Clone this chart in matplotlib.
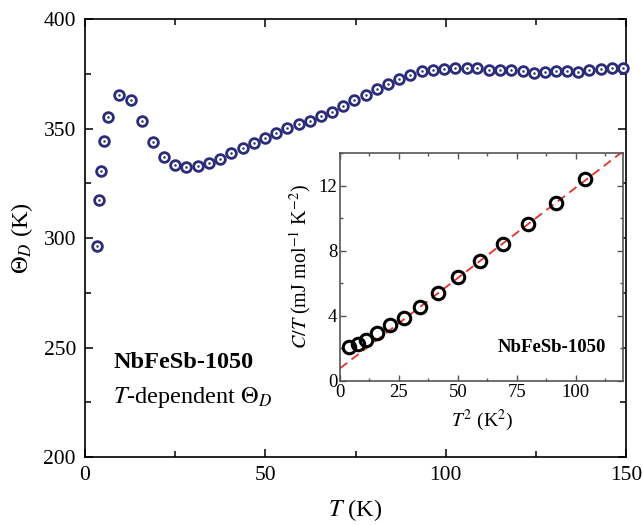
import numpy as np
import matplotlib
matplotlib.use("Agg")
from matplotlib import pyplot as plt
from matplotlib.ticker import MultipleLocator

plt.rcParams['font.family'] = ['Liberation Serif', 'DejaVu Serif']
plt.rcParams['mathtext.fontset'] = 'stix'

# main panel: Debye temperature vs T
T = [3.2, 3.9, 4.5, 5.2, 6.4, 9.5, 12.7, 15.7, 18.8, 21.8, 25.0, 28.1, 31.2, 34.3,
     37.4, 40.6, 43.7, 46.8, 49.9, 53.0, 56.1, 59.2, 62.4, 65.4, 68.5, 71.6, 74.7,
     77.8, 81.0, 84.0, 87.1, 90.2, 93.3, 96.4, 99.5, 102.7, 105.8, 108.8, 111.9,
     115.1, 118.1, 121.3, 124.4, 127.5, 130.6, 133.6, 136.8, 139.8, 143.0, 146.1, 149.2]
theta_D = [296.3, 317.4, 330.5, 344.4, 355.1, 365.3, 363.2, 353.3, 344.0, 337.0, 333.3,
           332.3, 332.7, 334.1, 336.2, 338.7, 341.2, 343.5, 345.8, 348.1, 350.1, 352.1,
           353.7, 355.8, 357.7, 360.3, 363.0, 365.3, 368.0, 370.3, 372.6, 374.7, 376.3,
           377.0, 377.3, 377.8, 377.8, 377.5, 377.0, 376.7, 376.7, 376.4, 375.5, 375.9,
           376.4, 376.4, 375.9, 376.6, 377.2, 377.5, 377.5]

# inset: C/T vs T^2
T2 = [3.9, 7.5, 11.0, 15.8, 21.1, 27.0, 33.8, 41.5, 49.9, 59.4, 69.2, 79.9, 91.4, 103.8]
CT = [2.10, 2.27, 2.51, 2.92, 3.43, 3.88, 4.55, 5.43, 6.39, 7.35, 8.43, 9.66, 10.94, 12.41]
gamma = 0.78   # intercept of linear fit
beta = 0.111   # slope of linear fit

navy = '#2b2d7c'

fig = plt.figure(figsize=(6.43, 5.25), dpi=100)
ax = fig.add_axes([0.1322, 0.1295, 0.8414, 0.834])

ax.plot(T, theta_D, 'o', ms=7, mfc='white', mec=navy, mew=2.0, clip_on=False, zorder=3)
ax.plot(T, theta_D, 'o', ms=1.8, mfc=navy, mec=navy, mew=0, clip_on=False, zorder=4)

ax.set_xlim(0, 150)
ax.set_ylim(200, 400)
ax.xaxis.set_major_locator(MultipleLocator(50))
ax.xaxis.set_minor_locator(MultipleLocator(25))
ax.yaxis.set_major_locator(MultipleLocator(50))
ax.yaxis.set_minor_locator(MultipleLocator(25))
ax.tick_params(which='both', direction='in', top=True, right=True, labelsize=15.5,
               width=1.1, pad=6.5)
ax.tick_params(which='major', length=6)
ax.tick_params(which='minor', length=4)
for s in ax.spines.values():
    s.set_linewidth(1.2)
ax.set_xlabel(r'$T$ (K)', fontsize=17.5, labelpad=9)
ax.set_ylabel(r'$\Theta_D$ (K)', fontsize=17.5, labelpad=6)

ax.text(0.052, 0.215, 'NbFeSb-1050', transform=ax.transAxes, fontsize=17.5,
        fontweight='bold', va='center', ha='left')
ax.text(0.052, 0.135, r'$T$-dependent $\Theta_D$', transform=ax.transAxes, fontsize=17.5,
        va='center', ha='left')

# inset
ins = fig.add_axes([0.5288, 0.2743, 0.4401, 0.4343])
xx = np.array([0, 120])
ins.plot(xx, gamma + beta * xx, '--', color='#e8302a', lw=1.3, dashes=(5, 3))
ins.plot(T2, CT, 'o', ms=9, mfc='none', mec='black', mew=2.2, zorder=3)
ins.set_xlim(0, 120)
ins.set_ylim(0, 14)
ins.xaxis.set_major_locator(MultipleLocator(25))
ins.xaxis.set_minor_locator(MultipleLocator(12.5))
ins.yaxis.set_major_locator(MultipleLocator(4))
ins.yaxis.set_minor_locator(MultipleLocator(2))
ins.tick_params(which='both', direction='in', top=True, right=True, labelsize=13.5,
                width=1.0, color='#555555', pad=2)
ins.tick_params(which='major', length=4)
ins.tick_params(which='minor', length=2.5)
for s in ins.spines.values():
    s.set_linewidth(1.2)
    s.set_color('#555555')
ins.set_xlabel(r'$T^2$ (K$^2$)', fontsize=14, labelpad=5)
ins.set_ylabel(r'$C/T$ (mJ mol$^{-1}$ K$^{-2}$)', fontsize=14.5, labelpad=4)
ins.text(0.94, 0.149, 'NbFeSb-1050', transform=ins.transAxes, fontsize=13.5,
         fontweight='bold', va='center', ha='right')

fig.savefig('out.png', dpi=100)
